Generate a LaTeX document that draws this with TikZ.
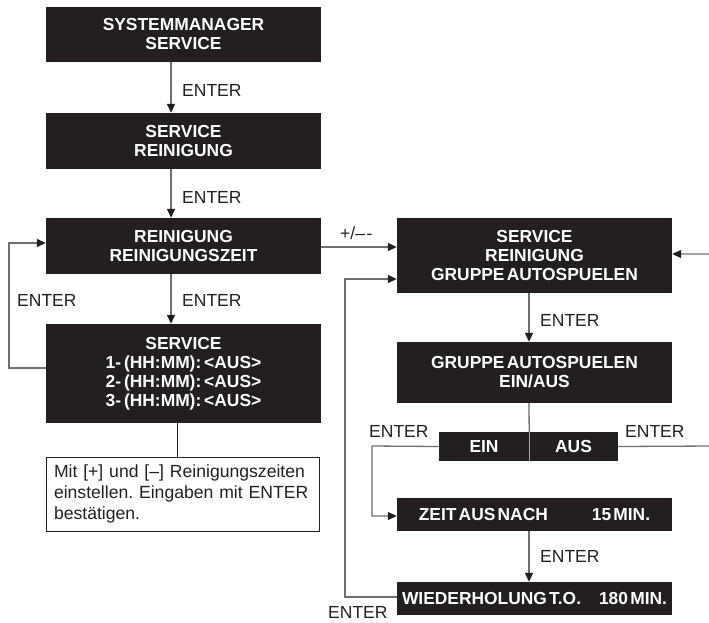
\documentclass[tikz,border=0pt]{standalone}
\usepackage{fontspec}
\setmainfont{Liberation Sans}
\newfontfamily\boxfont{Liberation Sans}[WordSpace=0.45]
\usetikzlibrary{arrows.meta}
\definecolor{boxfill}{HTML}{231F20}
\definecolor{linegray}{HTML}{6E6E6E}
\frenchspacing
\begin{document}
\begin{tikzpicture}[x=1pt,y=-1pt,
  blk/.style={fill=boxfill, text=white, font=\boxfont\fontsize{17.4}{19}\selectfont\bfseries,
    align=center, inner sep=0pt, minimum width=275pt},
  lbl/.style={font=\fontsize{17.5}{21}\selectfont, anchor=west, inner sep=0pt, text=boxfill},
  conn/.style={draw=linegray, line width=1.3pt},
  arr/.style={conn, -{Triangle[length=9pt,width=8pt,color=boxfill]}}]
\useasboundingbox (0,0) rectangle (709,622);

% left column
\node[blk, minimum height=55pt] (b1) at (183.5,34.5) {SYSTEMMANAGER\\SERVICE};
\node[blk, minimum height=56pt] (b2) at (183.5,141) {SERVICE\\REINIGUNG};
\node[blk, minimum height=56pt] (b3) at (183.5,246) {REINIGUNG\\REINIGUNGSZEIT};
\node[blk, minimum height=99pt] (b4) at (183.5,373.5) {SERVICE\\1-\,(HH:MM):\,<AUS>\\2-\,(HH:MM):\,<AUS>\\3-\,(HH:MM):\,<AUS>};
\node[draw=boxfill, line width=0.8pt, minimum width=273pt, minimum height=74pt,
  inner xsep=8pt, text width=257pt, align=left, font=\fontsize{17.6}{21}\selectfont, text=boxfill]
  (note) at (182.5,494) {Mit [+] und [--] Reinigungszeiten\\einstellen. Eingaben mit ENTER\\bestätigen.};

% right column
\node[blk, minimum height=75pt] (b5) at (534.5,255.5) {SERVICE\\REINIGUNG\\GRUPPE AUTOSPUELEN};
\node[blk, minimum height=61pt] (b6) at (534.5,372.5) {GRUPPE AUTOSPUELEN\\EIN/AUS};
\node[blk, minimum width=90pt, minimum height=29pt] (ein) at (484,446.5) {EIN};
\node[blk, minimum width=89pt, minimum height=29pt] (aus) at (573.5,446.5) {AUS};
\node[blk, minimum height=33pt] (zeit) at (534.5,514.5) {ZEIT AUS NACH\hspace{44pt}15 MIN.};
\node[blk, minimum height=33pt] (wied) at (534.5,598.5) {WIEDERHOLUNG T.O.\hspace{18pt}180 MIN.};

% coordinates
\coordinate (lx) at (171,0);
\coordinate (nx) at (177,0);
\coordinate (cx) at (529,0);
\coordinate (lA) at (9,368);
\coordinate (lB) at (9,243);
\coordinate (pm) at (0,247);
\coordinate (wA) at (345,597);
\coordinate (wB) at (345,279);
\coordinate (rA) at (712,254);
\coordinate (rB) at (712,446);
\coordinate (eA) at (372,446);
\coordinate (eB) at (372,516);

% connectors left
\draw[arr] (b1.south -| lx) -- (b2.north -| lx);
\draw[arr] (b2.south -| lx) -- (b3.north -| lx);
\draw[arr] (b3.south -| lx) -- (b4.north -| lx);
\draw[arr] (b4.west |- lA) -- (lA) -- (lB) -- (b3.west |- lB);
\draw[draw=boxfill, line width=1pt] (b4.south -| nx) -- (note.north -| nx);

% connectors right
\draw[arr] (b3.east |- pm) -- (b5.west |- pm);
\draw[arr] (b5.south -| cx) -- (b6.north -| cx);
\draw[conn] (b6.south -| cx) -- (ein.north east);
\draw[draw=gray!70, line width=0.6pt] (ein.north east) -- (ein.south east);
\draw[arr] (ein.west) -- (eA) -- (eB) -- (zeit.west |- eB);
\draw[arr] (zeit.south -| cx) -- (wied.north -| cx);
\draw[arr] (wied.west |- wA) -- (wA) -- (wB) -- (b5.west |- wB);
\draw[arr] (aus.east) -- (rB) -- (rA) -- (b5.east |- rA);

% labels
\node[lbl] (t1) at (182,90) {ENTER};
\node[lbl] (t2) at (182,197) {ENTER};
\node[lbl] (t3) at (182,300) {ENTER};
\node[lbl] (t4) at (17,300) {ENTER};
\node[lbl] (t5) at (340,233) {+/–\kern1.5pt-};
\node[lbl] (t6) at (540,320) {ENTER};
\node[lbl] (t7) at (369,431) {ENTER};
\node[lbl] (t8) at (625,431) {ENTER};
\node[lbl] (t9) at (540,556) {ENTER};
\node[lbl] (t10) at (328,612) {ENTER};
\end{tikzpicture}
\end{document}
